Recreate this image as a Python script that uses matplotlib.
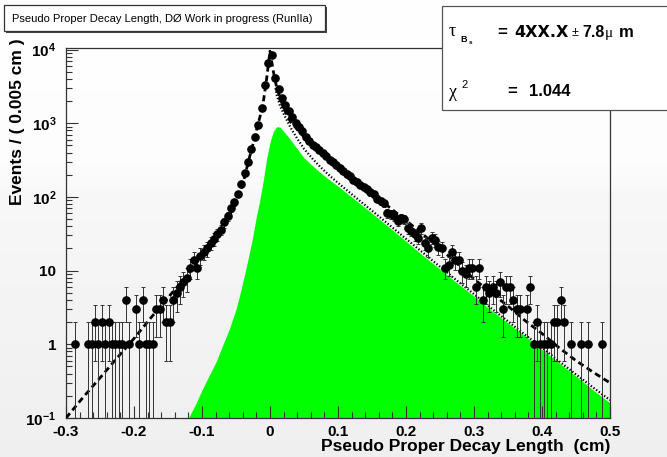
import numpy as np
import matplotlib
matplotlib.use("Agg")
import matplotlib.pyplot as plt
from matplotlib.patches import Rectangle
from matplotlib.ticker import FixedLocator, FixedFormatter, LogLocator, MultipleLocator, NullFormatter

plt.rcParams["font.family"] = ["Liberation Sans", "DejaVu Sans"]
plt.rcParams["mathtext.fontset"] = "custom"
plt.rcParams["mathtext.bf"] = "Liberation Sans:bold"
plt.rcParams["mathtext.rm"] = "Liberation Sans:bold"
plt.rcParams["mathtext.default"] = "bf"
plt.rcParams["axes.unicode_minus"] = False

# histogram: 0.005 cm bins from -0.3 to 0.5 (160 bins), events per bin
bin_lo = -0.3
bin_w = 0.005
counts = [
    0, 0, 1, 0, 0, 0, 1, 1, 2, 1,
    2, 1, 2, 1, 1, 1, 1, 4, 1, 0,
    3, 1, 4, 1, 1, 1, 3, 3, 4, 2,
    2, 4, 5, 6, 7, 8, 11, 14, 11, 16,
    18, 20, 24, 27, 31, 36, 45, 55, 70, 85,
    110, 150, 210, 300, 450, 650, 950, 1600, 3300, 6500,
    8500, 4100, 2900, 2200, 1750, 1450, 1200, 1000, 900, 790,
    660, 580, 510, 470, 430, 400, 360, 320, 300, 275,
    250, 225, 205, 190, 170, 160, 145, 135, 127, 115,
    108, 95, 88, 82, 60, 58, 55, 47, 52, 50,
    38, 35, 31, 28, 38, 24, 20, 28, 26, 21,
    20, 11, 12, 18, 14, 14, 10, 9, 11, 11,
    6, 11, 4, 6, 5, 6, 5, 7, 3, 6,
    6, 4, 3, 3, 0, 3, 6, 1, 2, 1,
    1, 1, 1, 2, 2, 4, 2, 0, 1, 0,
    0, 1, 0, 1, 0, 0, 0, 1, 0, 0,
]

# total fit (dashed)
fit_x = [-0.30, -0.275, -0.25, -0.225, -0.20, -0.175, -0.15, -0.125, -0.10, -0.075,
         -0.06, -0.05, -0.04, -0.03, -0.025, -0.02, -0.015, -0.01, -0.005, 0.0,
         0.005, 0.01, 0.02, 0.03, 0.05, 0.075, 0.10, 0.125, 0.15, 0.175,
         0.20, 0.225, 0.25, 0.275, 0.30, 0.325, 0.35, 0.375, 0.40, 0.425,
         0.45, 0.475, 0.50]
fit_y = [0.10, 0.19, 0.35, 0.65, 1.2, 2.3, 4.3, 8.0, 16, 33,
         55, 85, 150, 350, 520, 800, 1200, 1900, 4000, 9500,
         5000, 3000, 1600, 1050, 650, 420, 270, 172, 112, 73,
         48, 31, 20, 12.5, 7.7, 5.0, 3.3, 2.1, 1.4, 0.9,
         0.6, 0.42, 0.30]

# signal component (dotted)
sig_x = [0.008, 0.01, 0.015, 0.02, 0.03, 0.04, 0.05, 0.0625, 0.075, 0.0875,
         0.10, 0.125, 0.15, 0.175, 0.20, 0.225, 0.25, 0.275, 0.30, 0.325,
         0.35, 0.375, 0.40, 0.425, 0.45, 0.475, 0.50]
sig_y = [3000, 2400, 1700, 1350, 880, 620, 450, 330, 250, 195,
         155, 100, 65, 42, 27, 17.5, 11.3, 7.3, 4.8, 3.1,
         2.05, 1.35, 0.9, 0.59, 0.39, 0.26, 0.175]

# B_s signal (green area)
bs_x = [-0.12, -0.11, -0.10, -0.09, -0.08, -0.07, -0.06, -0.05, -0.045, -0.04,
        -0.035, -0.03, -0.025, -0.02, -0.015, -0.01, -0.005, 0.0, 0.005, 0.01,
        0.015, 0.02, 0.03, 0.04, 0.05, 0.0625, 0.075, 0.0875, 0.10, 0.125,
        0.15, 0.175, 0.20, 0.225, 0.25, 0.275, 0.30, 0.325, 0.35, 0.375,
        0.40, 0.425, 0.45, 0.475, 0.50]
bs_y = [0.10, 0.15, 0.24, 0.37, 0.56, 0.95, 1.6, 3.0, 4.5, 7.0,
        11, 18, 30, 55, 90, 165, 330, 550, 780, 900,
        880, 780, 600, 450, 340, 265, 210, 170, 140, 92,
        60, 39, 25, 16, 10.5, 6.8, 4.5, 2.9, 1.95, 1.3,
        0.85, 0.56, 0.37, 0.24, 0.16]

x_ticks = [-0.3, -0.2, -0.1, 0.0, 0.1, 0.2, 0.3, 0.4, 0.5]
x_labels = ["-0.3", "-0.2", "-0.1", "0", "0.1", "0.2", "0.3", "0.4", "0.5"]
y_ticks = [0.1, 1, 10, 100, 1000, 10000]
y_labels = [r"$10^{-1}$", "1", "10", r"$10^{2}$", r"$10^{3}$", r"$10^{4}$"]

W, H = 667, 457


def fx(px):
    return px / W


def fy(py):
    return 1 - py / H


fig = plt.figure(figsize=(W / 100, H / 100), dpi=100)
fig.patch.set_facecolor("white")

# faint screen-shot shading behind everything
bg = fig.add_axes([0, 0, 1, 1], zorder=-10)
rows = np.arange(H)
shade = np.interp(rows, [0, 160, 195, H], [0.995, 0.99, 0.968, 0.935])
bg.imshow(shade[:, None], aspect="auto", extent=[0, 1, 0, 1], cmap="gray", vmin=0, vmax=1)
bg.axis("off")

ax = fig.add_axes([fx(66), fy(418), fx(610) - fx(66), fy(48) - fy(418)])
ax.set_facecolor("none")
ax.set_yscale("log")
ax.set_xlim(-0.3, 0.5)
ax.set_ylim(0.1, 1.05e4)

ax.fill_between(bs_x, 1e-3, bs_y, color="#00ff00", lw=0, zorder=1)
ax.plot(sig_x, sig_y, color="black", lw=1.6, ls=(0, (0.6, 0.9)), zorder=2)
ax.plot(fit_x, fit_y, color="black", lw=2.0, ls=(0, (2.2, 1.4)), zorder=3)

n = np.array(counts, dtype=float)
xc = bin_lo + bin_w * (np.arange(len(n)) + 0.5)
keep = n > 0
err = np.sqrt(n[keep])
lower = np.minimum(err, n[keep] - 1e-4)
ax.errorbar(xc[keep], n[keep], yerr=[lower, err], fmt="o", color="black", ms=5.2,
            ecolor="#333333", elinewidth=0.7, capsize=1.6, capthick=0.7, zorder=4)

for s in ax.spines.values():
    s.set_color("#333333")
    s.set_linewidth(0.9)

ax.xaxis.set_major_locator(FixedLocator(x_ticks))
ax.xaxis.set_major_formatter(FixedFormatter(x_labels))
ax.xaxis.set_minor_locator(MultipleLocator(0.02))
ax.yaxis.set_major_locator(FixedLocator(y_ticks))
ax.yaxis.set_major_formatter(FixedFormatter(y_labels))
ax.yaxis.set_minor_locator(LogLocator(base=10, subs=np.arange(2, 10)))
ax.yaxis.set_minor_formatter(NullFormatter())
ax.tick_params(which="both", direction="in", top=False, right=False, color="#333333")
ax.tick_params(which="major", length=8.5, width=0.8, labelsize=11)
ax.tick_params(which="minor", length=4.3, width=0.8)
ax.tick_params(axis="x", which="major", pad=5)
ax.tick_params(axis="y", which="major", pad=7)
for lab in ax.get_xticklabels() + ax.get_yticklabels():
    lab.set_fontweight("bold")

fig.text(fx(18), fy(38), "Events / ( 0.005 cm )", rotation=90, ha="center", va="top",
         fontsize=12.5, fontweight="bold")
fig.text(fx(610), fy(446), "Pseudo Proper Decay Length  (cm)", ha="right", va="center",
         fontsize=12.5, fontweight="bold")

# title box with shadow
fig.add_artist(Rectangle((fx(6), fy(33)), fx(325) - fx(4), fy(5) - fy(31),
                         transform=fig.transFigure, facecolor="#444444", edgecolor="none"))
fig.add_artist(Rectangle((fx(4), fy(31)), fx(325) - fx(4), fy(5) - fy(31),
                         transform=fig.transFigure, facecolor="white", edgecolor="#333333", lw=0.9))
fig.text(fx(12), fy(18.5), "Pseudo Proper Decay Length, DØ Work in progress (RunIIa)",
         ha="left", va="center", fontsize=8)

# fit results box
fig.add_artist(Rectangle((fx(441.5), fy(110)), fx(670) - fx(441.5), fy(6) - fy(110),
                         transform=fig.transFigure, facecolor="white", edgecolor="#555555", lw=0.9))
serif = ["Liberation Serif", "DejaVu Serif"]
fig.text(fx(449), fy(32), "τ", ha="left", va="center", fontsize=13, family=serif)
fig.text(fx(460), fy(39.5), "B", ha="left", va="center", fontsize=6.5, fontweight="bold")
fig.text(fx(468.5), fy(42), "s", ha="left", va="center", fontsize=4.5, fontweight="bold")
fig.text(fx(497), fy(32.5), "=", ha="left", va="center", fontsize=12, fontweight="bold")
fig.text(fx(514), fy(32.5), "4XX.X", ha="left", va="center", fontsize=11.5, fontweight="bold",
         family=["DejaVu Sans"])
fig.text(fx(572), fy(33.5), "±", ha="left", va="center", fontsize=9)
fig.text(fx(582), fy(32.5), "7.8", ha="left", va="center", fontsize=11.5, fontweight="bold")
fig.text(fx(605), fy(34), "μ", ha="left", va="center", fontsize=11, family=serif)
fig.text(fx(619), fy(32.5), "m", ha="left", va="center", fontsize=12, fontweight="bold")
fig.text(fx(449), fy(92), "χ", ha="left", va="center", fontsize=13, family=serif)
fig.text(fx(461.5), fy(85), "2", ha="left", va="center", fontsize=8)
fig.text(fx(507), fy(91.5), "=", ha="left", va="center", fontsize=12, fontweight="bold")
fig.text(fx(529), fy(91.5), "1.044", ha="left", va="center", fontsize=12, fontweight="bold")

fig.savefig("out.png", dpi=100)
